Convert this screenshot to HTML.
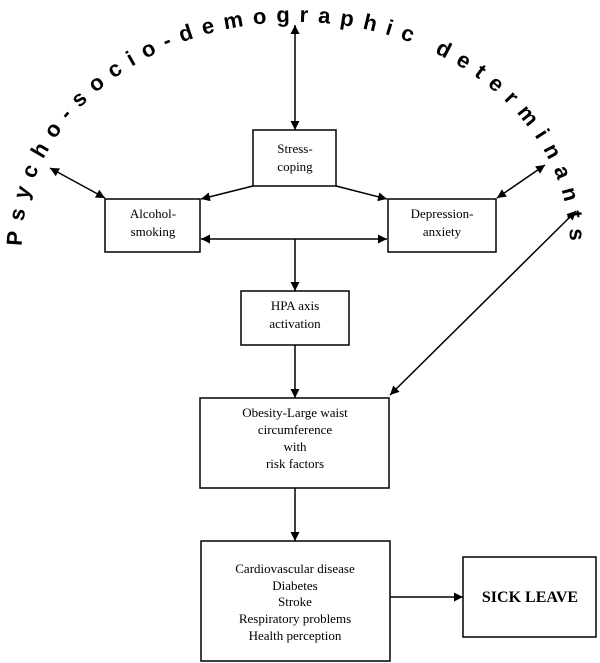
<!DOCTYPE html>
<html><head><meta charset="utf-8"><style>
html,body{margin:0;padding:0;background:#fff;}
svg{display:block;}
text{font-family:"Liberation Serif",serif;fill:#000;}
</style></head><body>
<svg width="600" height="663" viewBox="0 0 600 663" xmlns="http://www.w3.org/2000/svg">
<defs>
<marker id="a" viewBox="0 0 10 10" refX="10" refY="5" markerWidth="9" markerHeight="9" markerUnits="userSpaceOnUse" orient="auto-start-reverse">
<path d="M0,0 L10,5 L0,10 z" fill="#000"/></marker>
<path id="arc" d="M22,246 A274,224 0 0 1 570,246" fill="none"/>
</defs>
<text style="font-family:'Liberation Sans',sans-serif;font-weight:bold;font-size:22px" letter-spacing="9.6"><textPath href="#arc" startOffset="0">Psycho-socio-demographic determinants</textPath></text>

<g fill="none" stroke="#000" stroke-width="1.5">
<rect x="253" y="130" width="83" height="56"/>
<rect x="105" y="199" width="95" height="53"/>
<rect x="388" y="199" width="108" height="53"/>
<rect x="241" y="291" width="108" height="54"/>
<rect x="200" y="398" width="189" height="90"/>
<rect x="201" y="541" width="189" height="120"/>
<rect x="463" y="557" width="133" height="80"/>
</g>
<g stroke="#000" stroke-width="1.5" fill="none">
<line x1="295" y1="25" x2="295" y2="130" marker-start="url(#a)" marker-end="url(#a)"/>
<line x1="253" y1="186" x2="201" y2="199" marker-end="url(#a)"/>
<line x1="336" y1="186" x2="387" y2="199" marker-end="url(#a)"/>
<line x1="201" y1="239" x2="387" y2="239" marker-start="url(#a)" marker-end="url(#a)"/>
<line x1="295" y1="239" x2="295" y2="291" marker-end="url(#a)"/>
<line x1="295" y1="345" x2="295" y2="398" marker-end="url(#a)"/>
<line x1="295" y1="488" x2="295" y2="541" marker-end="url(#a)"/>
<line x1="390" y1="597" x2="463" y2="597" marker-end="url(#a)"/>
<line x1="50" y1="168" x2="105" y2="198" marker-start="url(#a)" marker-end="url(#a)"/>
<line x1="545" y1="165" x2="497" y2="198" marker-start="url(#a)" marker-end="url(#a)"/>
<line x1="576" y1="211" x2="390" y2="395" marker-start="url(#a)" marker-end="url(#a)"/>
</g>
<g font-size="13" text-anchor="middle">
<text x="295" y="153">Stress-</text><text x="295" y="171">coping</text>
<text x="153" y="218">Alcohol-</text><text x="153" y="236">smoking</text>
<text x="442" y="218">Depression-</text><text x="442" y="236">anxiety</text>
<text x="295" y="310">HPA axis</text><text x="295" y="328">activation</text>
<text x="295" y="417">Obesity-Large waist</text><text x="295" y="434">circumference</text>
<text x="295" y="451">with</text><text x="295" y="468">risk factors</text>
<text x="295" y="573">Cardiovascular disease</text><text x="295" y="590">Diabetes</text>
<text x="295" y="606">Stroke</text><text x="295" y="623">Respiratory problems</text>
<text x="295" y="640">Health perception</text>
<text x="530" y="602" font-size="16" font-weight="bold">SICK LEAVE</text>
</g>
</svg>
</body></html>
